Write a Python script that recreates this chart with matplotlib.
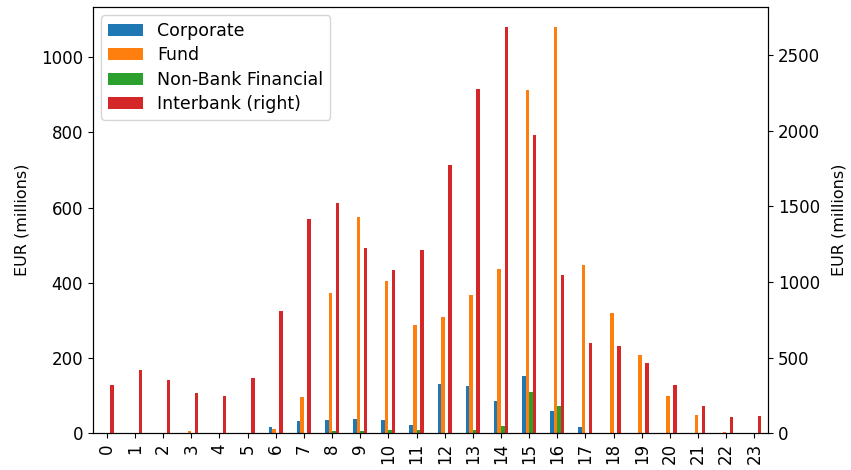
import matplotlib
matplotlib.use("Agg")
import matplotlib.pyplot as plt
import numpy as np

plt.rcParams['font.size'] = 12

hours = [str(h) for h in range(24)]
corporate = [0, 1, 0, 0, 0, 1, 17, 33, 35, 38, 35, 22, 131, 126, 86, 152, 59, 17, 0, 0, 0, 0, 0, 0]
fund = [0, 0, 1, 6, 1, 0, 11, 96, 373, 575, 405, 288, 309, 368, 437, 912, 1080, 447, 320, 208, 99, 49, 4, 0]
non_bank = [0, 0, 0, 0, 0, 0, 0, 0, 6, 6, 9, 9, 2, 9, 19, 110, 73, 0, 0, 0, 0, 0, 0, 0]
interbank = [320, 419, 353, 267, 247, 366, 809, 1417, 1523, 1226, 1080, 1212, 1775, 2277, 2687, 1973, 1047, 597, 577, 465, 320, 181, 108, 115]

fig = plt.figure(figsize=(8.51, 4.70), dpi=100)
ax = fig.add_axes([0.109, 0.078, 0.794, 0.908])
ax2 = ax.twinx()

x = np.arange(len(hours))
w = 0.125
c = ['#1f77b4', '#ff7f0e', '#2ca02c', '#d62728']
h1 = ax.bar(x - 1.5 * w, corporate, w, color=c[0], label='Corporate')
h2 = ax.bar(x - 0.5 * w, fund, w, color=c[1], label='Fund')
h3 = ax.bar(x + 0.5 * w, non_bank, w, color=c[2], label='Non-Bank Financial')
h4 = ax2.bar(x + 1.5 * w, interbank, w, color=c[3], label='Interbank (right)')

ax.set_xlim(-0.5, 23.5)
ax.set_xticks(x)
ax.set_xticklabels(hours, rotation=90)
ax.set_ylabel('EUR (millions)', fontsize=11.5, labelpad=8)
ax2.set_ylabel('EUR (millions)', fontsize=11.5, labelpad=8)
ax.set_ylim(0, 1134)
ax2.set_ylim(0, 2821)

ax2.legend([h1, h2, h3, h4], ['Corporate', 'Fund', 'Non-Bank Financial', 'Interbank (right)'],
           loc='upper left', fontsize=12.5, labelspacing=0.36)

fig.savefig('out.png', dpi=100)
